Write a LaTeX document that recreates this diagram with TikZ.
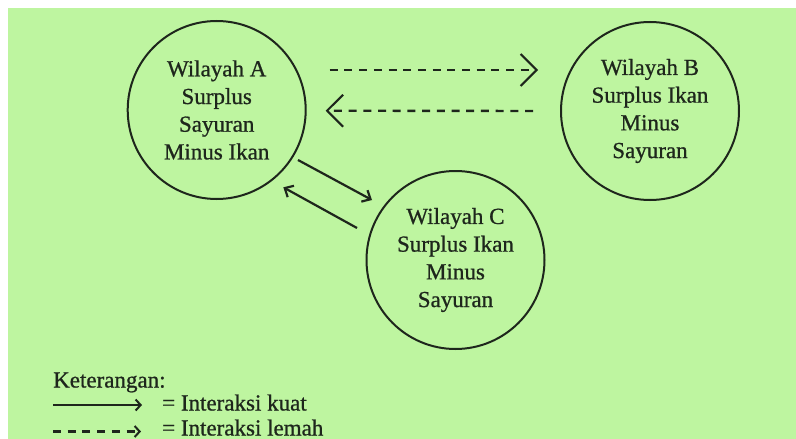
\documentclass[tikz,border=0pt]{standalone}
\usepackage{fontspec}
\setmainfont{Liberation Serif}[FakeBold=0.8]
\usetikzlibrary{arrows.meta,calc}
\definecolor{bg}{RGB}{190,245,160}
\definecolor{ink}{RGB}{30,38,28}
\begin{document}
\begin{tikzpicture}[x=1pt,y=-1pt,
  region/.style={circle,draw=ink,line width=2pt,minimum size=178pt,inner sep=0pt,
    align=center,font=\fontsize{23}{27.7}\selectfont,text=ink},
  weak/.style={draw=ink,line width=2.4pt,dash pattern=on 8pt off 6.7pt,
    -{Straight Barb[length=16pt,width=32pt,line width=2pt]}},
  weaksmall/.style={draw=ink,line width=2.4pt,dash pattern=on 8pt off 6.7pt,
    -{Straight Barb[length=5pt,width=11pt,line width=2pt]}},
  strong/.style={draw=ink,line width=2.2pt,-{Straight Barb[length=7pt,width=13pt]}},
  strongleg/.style={draw=ink,line width=2.8pt,-{Straight Barb[length=5pt,width=11pt,line width=2pt]}},
  legtext/.style={anchor=base west,inner sep=0pt,font=\fontsize{23}{25}\selectfont,text=ink}]
\useasboundingbox (0,0) rectangle (796,439);
\fill[white] (0,0) rectangle (796,439);
\fill[bg] (8,8) rectangle (796,439);

\node[region] (A) at (216.7,110) {Wilayah A\\Surplus\\Sayuran\\Minus Ikan};
\node[region] (B) at (650,111) {Wilayah B\\Surplus Ikan\\Minus\\Sayuran};
\node[region] (C) at (455.5,260) {Wilayah C\\Surplus Ikan\\Minus\\Sayuran};

% weak interactions A <-> B
\draw[weak] ($(A.center)+(113,-40)$) -- ($(B.center)+(-112,-41)$);
\draw[weak] ($(B.center)+(-117,0)$) -- ($(A.center)+(109,0.7)$);

% strong interactions A <-> C
\draw[strong] ($(A.center)+(81.3,50)$) -- ($(C.center)+(-83.5,-60)$);
\draw[strong] ($(C.center)+(-98.5,-32)$) -- ($(A.center)+(66.6,77.3)$);

% legend
\node[legtext] (ket) at (53,387.5) {Keterangan:};
\coordinate (s1) at (53,405);
\coordinate (s2) at (142,405);
\draw[strongleg] (s1) -- (s2);
\node[legtext] (kuat) at (162,410.5) {= Interaksi kuat};
\coordinate (d1) at (53,431.5);
\coordinate (d2) at (141,431.5);
\draw[weaksmall] (d1) -- (d2);
\node[legtext] (lemah) at (162,435.5) {= Interaksi lemah};
\end{tikzpicture}
\end{document}
